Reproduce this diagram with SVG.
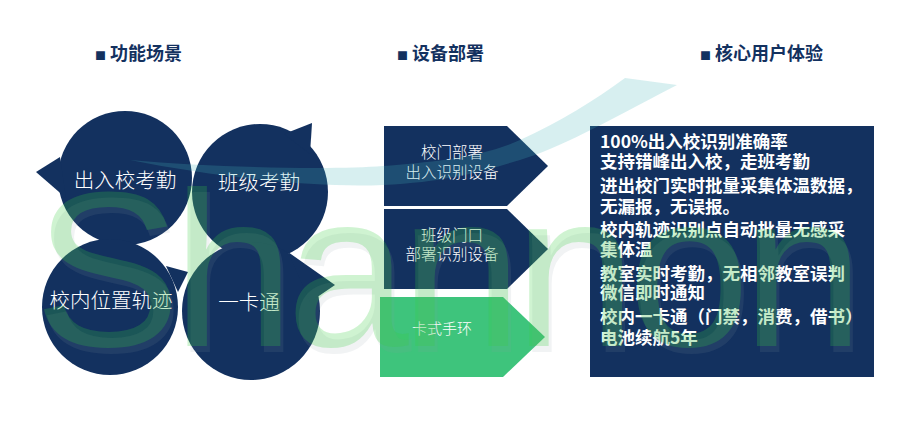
<svg xmlns="http://www.w3.org/2000/svg" width="900" height="424" viewBox="0 0 900 424">
  <style>
    .hdr { font-family: "Noto Sans CJK SC", "Liberation Sans", sans-serif; font-weight: 700; font-size: 18px; fill: #13315f; }
    .bul { font-size: 11px; }
    .navy { fill: #13315f; }
    .green { fill: #3ec47c; }
    .ctext { font-family: "Noto Sans CJK SC", "Liberation Sans", sans-serif; font-weight: 300; font-size: 20.5px; fill: #ffffff; text-anchor: middle; }
    .atext { font-family: "Noto Sans CJK SC", "Liberation Sans", sans-serif; font-weight: 300; font-size: 15.5px; fill: #ffffff; text-anchor: middle; }
    .btext { font-family: "Noto Sans CJK SC", "Liberation Sans", sans-serif; font-weight: 700; font-size: 17.5px; fill: #ffffff; }
    .wm { font-family: "Liberation Sans", Arial, sans-serif; font-size: 220px; }
  </style>
  <rect x="0" y="0" width="900" height="424" fill="#ffffff"/>

  <g id="headers">
    <text class="hdr" x="95" y="60"><tspan class="bul">■</tspan><tspan dx="4">功能场景</tspan></text>
    <text class="hdr" x="397" y="60"><tspan class="bul">■</tspan><tspan dx="4">设备部署</tspan></text>
    <text class="hdr" x="700" y="60"><tspan class="bul">■</tspan><tspan dx="4">核心用户体验</tspan></text>
  </g>

  <g id="node-attendance-gate">
    <circle class="navy" cx="125" cy="178" r="67"/>
    <polygon class="navy" points="60,157 36,172 66,198"/>
    <text class="ctext" x="125" y="188">出入校考勤</text>
  </g>
  <g id="node-attendance-class">
    <circle class="navy" cx="260" cy="192" r="68"/>
    <polygon class="navy" points="284,134 312,123 310,154"/>
    <text class="ctext" x="259" y="190">班级考勤</text>
  </g>
  <g id="node-track">
    <circle class="navy" cx="110" cy="307" r="68"/>
    <polygon class="navy" points="166,266 188,272 178,292"/>
    <text class="ctext" x="111" y="308">校内位置轨迹</text>
  </g>
  <g id="node-card">
    <circle class="navy" cx="251" cy="311" r="69"/>
    <polygon class="navy" points="288,252 335,285 310,302"/>
    <text class="ctext" x="249" y="310">一卡通</text>
  </g>

  <g id="node-gate-device">
    <polygon class="navy" points="384,126 507,126 548,166 507,206 384,206"/>
    <text class="atext" x="452" y="158">校门部署</text>
    <text class="atext" x="452" y="178">出入识别设备</text>
  </g>
  <g id="node-class-device">
    <polygon class="navy" points="384,209 507,209 548,249 507,289 384,289"/>
    <text class="atext" x="452" y="241">班级门口</text>
    <text class="atext" x="452" y="260">部署识别设备</text>
  </g>
  <g id="node-wristband">
    <polygon class="green" points="380,297 503,297 545,337 503,377 380,377"/>
    <text class="atext" x="442" y="334" style="font-size:15px">卡式手环</text>
  </g>

  <g id="node-experience">
    <rect class="navy" x="590" y="126" width="284" height="251"/>
    <text class="btext" x="600" y="148">100%出入校识别准确率</text>
    <text class="btext" x="600" y="168">支持错峰出入校，走班考勤</text>
    <text class="btext" x="600" y="192">进出校门实时批量采集体温数据，</text>
    <text class="btext" x="600" y="213">无漏报，无误报。</text>
    <text class="btext" x="600" y="236">校内轨迹识别点自动批量无感采</text>
    <text class="btext" x="600" y="256">集体温</text>
    <text class="btext" x="600" y="280">教室实时考勤，无相邻教室误判</text>
    <text class="btext" x="600" y="299">微信即时通知</text>
    <text class="btext" x="600" y="323">校内一卡通（门禁，消费，借书）</text>
    <text class="btext" x="600" y="344">电池续航5年</text>
  </g>

  <g id="connectors"/>

  <g id="decor">
    <path d="M130,160 C220,178 320,188 383,185 S480,172 520,160 S600,125 677,85 L625,78 C595,100 560,122 520,140 S430,162 383,166 S220,168 130,160 Z" fill="#4ab4b9" fill-opacity="0.22"/>
    <text class="wm" x="37" y="352" textLength="830" lengthAdjust="spacing" fill="#8a9aa3" fill-opacity="0.12">Shannon</text>
    <text class="wm" x="34" y="346" textLength="830" lengthAdjust="spacing" fill="#35ce3f" fill-opacity="0.24">Shannon</text>
  </g>
</svg>
